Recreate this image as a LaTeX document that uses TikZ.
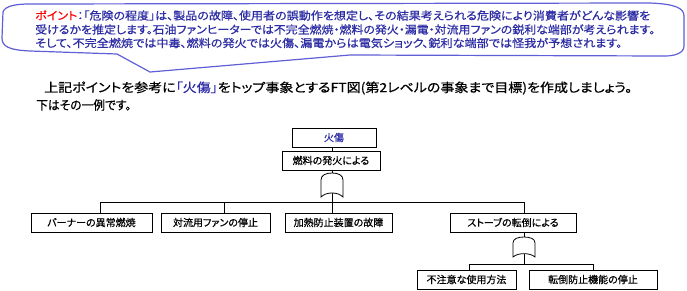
\documentclass[tikz,border=0pt]{standalone}
\usepackage{fontspec}
\usepackage{graphicx}
\setmainfont{Noto Sans CJK JP}[RawFeature=+palt]
\newfontfamily\jpb{Noto Sans CJK JP}[RawFeature=+palt,FakeBold=0.6]
\definecolor{cblue}{RGB}{45,45,165}
\definecolor{cedge}{RGB}{95,95,215}
\definecolor{cred}{RGB}{255,0,0}
\newsavebox\fitbox
\newcommand\fitto[2]{\sbox\fitbox{#2}\scalebox{\fpeval{(#1)/(\the\wd\fitbox)}}[1]{\usebox\fitbox}}
\begin{document}
\begin{tikzpicture}[x=1pt,y=-1pt,
  box/.style={draw=black,line width=0.9pt,minimum height=19pt,inner sep=0pt,font=\jpb\fontsize{10}{12}\selectfont},
  wire/.style={line width=0.8pt},
  gatepath/.style={draw=black,line width=0.8pt,fill=white},
  note/.style={anchor=west,inner sep=0pt,text=cblue,font=\jpb\fontsize{11}{13}\selectfont},
  body/.style={anchor=west,inner sep=0pt,text=black,font=\jpb\fontsize{12.5}{15}\selectfont}]
\useasboundingbox (0,0) rectangle (687,290);
% callout
\draw[cedge,line width=1.2pt,fill=white] (3,12) .. controls (5,6) and (15,4) .. (30,4) -- (650,3) .. controls (675,4) and (684,8) .. (684,16) -- (684,46) .. controls (684,53) and (675,56) .. (665,56) -- (350,55) -- (150,72) -- (117,54) -- (30,51) .. controls (8,50) and (2,46) .. (2,38) -- cycle;
\node[note] (p1) at (35,15.5) {\fitto{615pt}{\textcolor{cred}{ポイント}：「危険の程度」は、製品の故障、使用者の誤動作を想定し、その結果考えられる危険により消費者がどんな影響を}};
\node[note] (p2) at (35,29.5) {\fitto{620pt}{受けるかを推定します。石油ファンヒーターでは不完全燃焼・燃料の発火・漏電・対流用ファンの鋭利な端部が考えられます。}};
\node[note] (p3) at (35,43) {\fitto{587pt}{そして、不完全燃焼では中毒、燃料の発火では火傷、漏電からは電気ショック、鋭利な端部では怪我が予想されます。}};
% body text
\node[body] (t1) at (44,88) {\fitto{588pt}{上記ポイントを参考に\textcolor{cblue}{「火傷」}をトップ事象とするFT図(第2レベルの事象まで目標)を作成しましょう。}};
\node[body] (t2) at (36,105) {\fitto{95pt}{下はその一例です。}};
% tree nodes
\node[box,minimum width=84pt,text=cblue] (top) at (334,137.5) {火傷};
\node[box,minimum width=98pt] (n1) at (331,160.5) {燃料の発火による};
\coordinate (g1) at (332,173);
\coordinate (g1b) at (332,193);
\node[box,minimum width=121pt] (b1) at (91.5,222.5) {バーナーの異常燃焼};
\node[box,minimum width=109pt] (b2) at (215.5,222.5) {対流用ファンの停止};
\node[box,minimum width=107pt] (b3) at (338.5,222.5) {加熱防止装置の故障};
\node[box,minimum width=126pt] (b4) at (513,222.5) {ストーブの転倒による};
\coordinate (g2) at (524,237);
\coordinate (g2b) at (524,253.7);
\node[box,minimum width=99pt] (c1) at (466.5,279.5) {不注意な使用方法};
\node[box,minimum width=128pt] (c2) at (593,279.5) {転倒防止機能の停止};
% wires
\coordinate (h1) at (332,202);
\coordinate (k1) at (100,202);
\coordinate (k2) at (224,202);
\coordinate (k4) at (524,202);
\coordinate (m1) at (469,264);
\coordinate (m2) at (593,264);
\draw[wire] (top.south -| g1) -- (n1.north -| g1);
\draw[wire] (n1.south -| g1) -- (g1);
\draw[wire] (k1 |- b1.north) -- (k1) -- (k4) -- (k4 |- b4.north);
\draw[wire] (k2) -- (k2 |- b2.north);
\draw[wire] (g1b) -- (g1b |- b3.north);
\draw[wire] (b4.south -| g2) -- (g2);
\draw[wire] (g2b) -- (g2b |- m1);
\draw[wire] (m1 |- c1.north) -- (m1) -- (m2) -- (m2 |- c2.north);
% gates
\draw[gatepath,shift={(g1)}] (-11,24) -- (-11,7) .. controls (-11,2) and (-6,0) .. (0,0) .. controls (6,0) and (11,2) .. (11,7) -- (11,24) .. controls (8,21) and (4,20) .. (0,20) .. controls (-4,20) and (-8,21) .. (-11,24) -- cycle;
\draw[gatepath,shift={(g2)},yscale=0.833] (-11,24) -- (-11,7) .. controls (-11,2) and (-6,0) .. (0,0) .. controls (6,0) and (11,2) .. (11,7) -- (11,24) .. controls (8,21) and (4,20) .. (0,20) .. controls (-4,20) and (-8,21) .. (-11,24) -- cycle;
\end{tikzpicture}
\end{document}
